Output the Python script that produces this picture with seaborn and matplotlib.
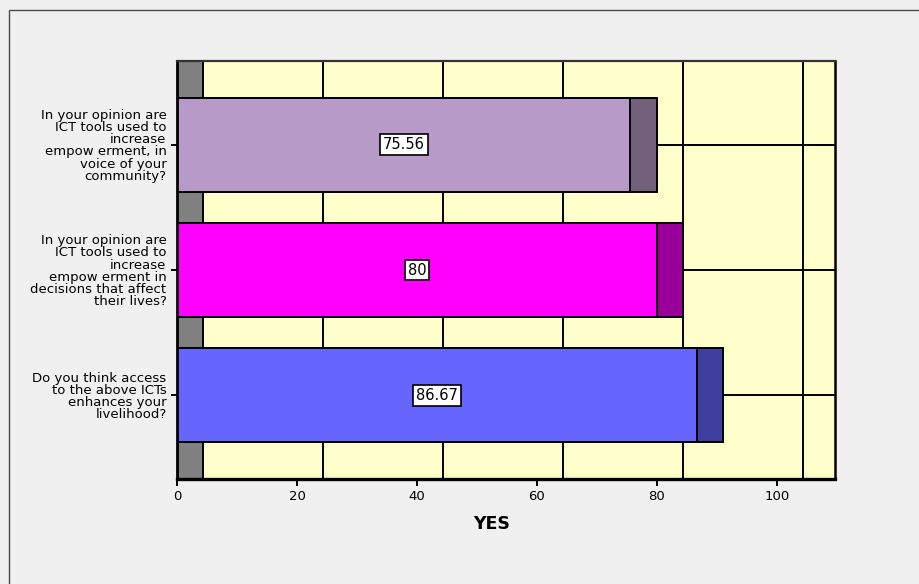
import matplotlib
matplotlib.use("Agg")
import matplotlib.pyplot as plt
from matplotlib.patches import Rectangle
import numpy as np
import pandas as pd
import seaborn as sns

# Survey items (top to bottom) and share answering YES (%)
questions = [
    "In your opinion are\nICT tools used to\nincrease\nempow erment, in\nvoice of your\ncommunity?",
    "In your opinion are\nICT tools used to\nincrease\nempow erment in\ndecisions that affect\ntheir lives?",
    "Do you think access\nto the above ICTs\nenhances your\nlivelihood?",
]
yes_pct = [75.56, 80, 86.67]
x_ticks = [0, 20, 40, 60, 80, 100]

front_colors = ["#B89AC8", "#FF00FF", "#6666FF"]
side_colors = ["#73607B", "#990099", "#3F3F9F"]

depth = 4.4          # pseudo-3D depth in data units
x_max = 109.67

sns.set_style("white")
plt.rcParams["font.family"] = ["DejaVu Sans"]
plt.rcParams["text.color"] = "black"
plt.rcParams["axes.labelcolor"] = "black"
plt.rcParams["xtick.color"] = "black"
plt.rcParams["ytick.color"] = "black"

df = pd.DataFrame({"question": questions, "yes": yes_pct})
df["yes_side"] = df["yes"] + depth

fig = plt.figure(figsize=(9.19, 5.84), dpi=100, facecolor="#F0F0F0")
ax = fig.add_axes([177 / 919, 1 - 479 / 584, (835 - 177) / 919, (479 - 61) / 584])
ax.set_facecolor("#FFFFCC")

# outer frame of the chart panel
fig.patches.append(Rectangle((9 / 919, -0.1), 1.2, 1 - 10 / 584 + 0.1,
                             transform=fig.transFigure, fill=False,
                             edgecolor="#4a4a4a", lw=1.0, zorder=0))

# side wall of the 3D box
ax.axvspan(0, depth, color="#808080", zorder=0.5, lw=0)
ax.axvline(depth, color="black", lw=1.4, zorder=0.6)

# back-wall grid
for t in x_ticks[1:]:
    ax.axvline(t + depth, color="black", lw=1.4, zorder=0.6)
for i in range(len(questions)):
    ax.plot([depth, x_max], [i, i], color="black", lw=1.4, zorder=0.6)

# bar side faces (drawn first, deeper) then the front faces
sns.barplot(data=df, x="yes_side", y="question", hue="question",
            palette=side_colors, orient="h", width=0.75, legend=False,
            saturation=1, edgecolor="black", linewidth=1.4, ax=ax, zorder=2)
sns.barplot(data=df, x="yes", y="question", hue="question",
            palette=front_colors, orient="h", width=0.75, legend=False,
            saturation=1, edgecolor="black", linewidth=1.4, ax=ax, zorder=3)

# value labels in white boxes
for i, v in enumerate(yes_pct):
    label = f"{v:.2f}".rstrip("0").rstrip(".")
    ax.text(v / 2, i, label, ha="center", va="center", fontsize=10.5,
            color="black", zorder=5,
            bbox=dict(boxstyle="square,pad=0.2", facecolor="white",
                      edgecolor="black", lw=1.2))

ax.set_xlim(0, x_max)
ax.set_ylim(2.667, -0.667)
ax.set_xticks(x_ticks)
ax.set_xticklabels([str(t) for t in x_ticks])
ax.set_ylabel("")
ax.set_xlabel("YES", fontsize=12.5, fontweight="bold", color="black")
ax.xaxis.set_label_coords((492 - 177) / 658, -0.086)

ax.tick_params(axis="x", direction="out", length=5, width=1.4, pad=3,
               labelsize=9.5, bottom=True, colors="black")
ax.tick_params(axis="y", direction="out", length=4, width=1.4, pad=3.5,
               labelsize=9.5, left=True, colors="black")
for lab in ax.get_yticklabels():
    lab.set_multialignment("right")
    lab.set_linespacing(0.92)

for side, lw, col in [("bottom", 2.4, "black"), ("left", 2.0, "black"),
                      ("right", 1.8, "black"), ("top", 1.6, "#333333")]:
    ax.spines[side].set_visible(True)
    ax.spines[side].set_linewidth(lw)
    ax.spines[side].set_color(col)
    ax.spines[side].set_zorder(6)

fig.savefig("out.png", dpi=100, facecolor=fig.get_facecolor())
